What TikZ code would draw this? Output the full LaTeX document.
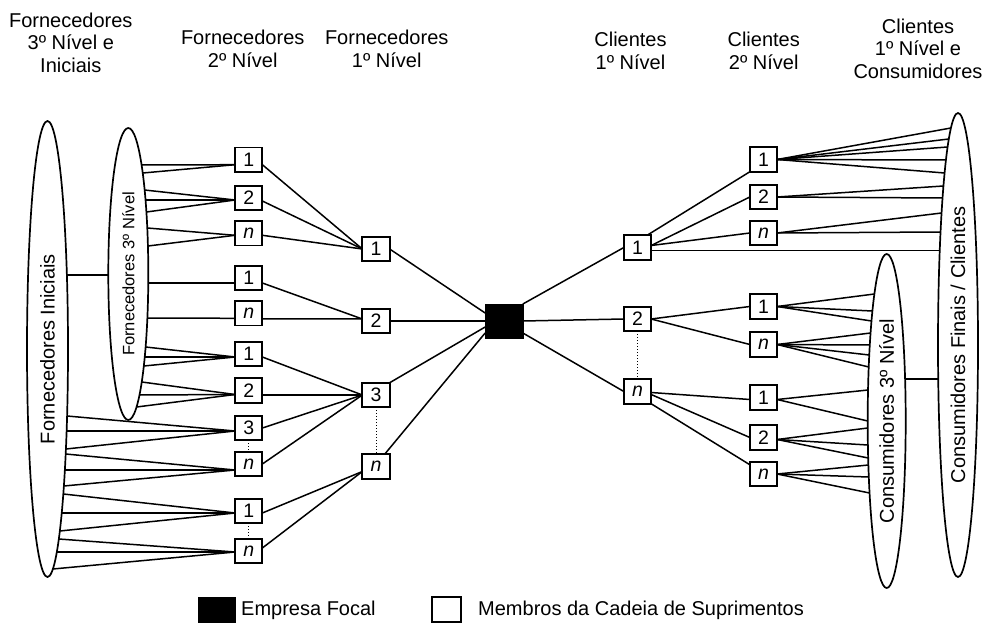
\documentclass[tikz,border=0pt]{standalone}
\usepackage{fontspec}
\setmainfont{Liberation Sans}
\usetikzlibrary{calc,shapes.geometric}
\tikzset{
  conn/.style={line width=1.5pt},
  member/.style={draw, line width=1.8pt, minimum width=27.3pt, minimum height=24.5pt,
    inner sep=0pt, outer sep=0pt, fill=white, font=\fontsize{19.5}{21}\selectfont},
  focal/.style={fill=black, draw=black, minimum width=37.7pt, minimum height=34pt, inner sep=0pt, outer sep=0pt},
  ell/.style={draw, ellipse, line width=1.7pt, inner sep=0pt, outer sep=0pt, rotate=90},
  dots/.style={dotted, line width=1pt},
  hdr/.style={anchor=base, inner sep=0pt, font=\fontsize{20}{22.7}\selectfont},
  legtxt/.style={anchor=base west, inner sep=0pt, font=\fontsize{20}{24}\selectfont},
}
\newcommand\ellpt[6]{\pgfmathsetmacro\ex{#2+#4*sqrt(1-((#6-#3)/#5)^2)}\coordinate (#1) at (\ex,#6);}
\newcommand\fan[6]{\foreach \yy in {#6}{\ellpt{ep}{#2}{#3}{#4}{#5}{\yy}\draw[conn] (ep) -- #1;}}
\begin{document}
\begin{tikzpicture}[x=1pt,y=-1pt]
\useasboundingbox (0,0) rectangle (985,623);

% headers
\node[hdr] (h1) at (70.8,27.3) {\begin{tabular}[t]{@{}c@{}}Fornecedores\\3º Nível e\\Iniciais\end{tabular}};
\node[hdr] (h2) at (242.7,45) {\begin{tabular}[t]{@{}c@{}}Fornecedores\\2º Nível\end{tabular}};
\node[hdr] (h3) at (386.7,45) {\begin{tabular}[t]{@{}c@{}}Fornecedores\\1º Nível\end{tabular}};
\node[hdr] (h4) at (630.5,46.7) {\begin{tabular}[t]{@{}c@{}}Clientes\\1º Nível\end{tabular}};
\node[hdr] (h5) at (763.7,46.7) {\begin{tabular}[t]{@{}c@{}}Clientes\\2º Nível\end{tabular}};
\node[hdr] (h6) at (918,33.3) {\begin{tabular}[t]{@{}c@{}}Clientes\\1º Nível e\\Consumidores\end{tabular}};

% ellipses
\node[ell, minimum width=456pt, minimum height=41pt] (E1) at (47.5,349) {\fontsize{20}{24}\selectfont Fornecedores Iniciais};
\node[ell, minimum width=292pt, minimum height=40pt] (E2) at (128.3,274) {\fontsize{16.5}{19}\selectfont Fornecedores 3º Nível};
\node[ell, minimum width=334pt, minimum height=38pt] (E3) at (886.7,421) {\fontsize{20}{24}\selectfont Consumidores 3º Nível};
\node[ell, minimum width=464pt, minimum height=40pt] (E4) at (958,345) {\fontsize{20}{24}\selectfont Consumidores Finais / Clientes};

% supplier tier 2
\node[member] (a1) at (248.7,159.7) {1};
\node[member] (a2) at (248.7,198) {2};
\node[member] (a3) at (248.7,233.3) {\textit{n}};
\node[member] (b1) at (248.7,278) {1};
\node[member] (b2) at (248.7,313.3) {\textit{n}};
\node[member] (c1) at (248.7,354) {1};
\node[member] (c2) at (248.7,390.5) {2};
\node[member] (c3) at (248.7,428) {3};
\node[member] (c4) at (248.7,464) {\textit{n}};
\node[member] (d1) at (248.7,511) {1};
\node[member] (d2) at (248.7,551) {\textit{n}};
% supplier tier 1
\node[member] (p1) at (376,249) {1};
\node[member] (p2) at (376,321) {2};
\node[member] (p3) at (376,395) {3};
\node[member] (p4) at (376,466.5) {\textit{n}};
% focal
\node[focal] (F) at (504,321) {};
% client tier 1
\node[member] (q1) at (637.5,247.5) {1};
\node[member] (q2) at (637.5,319) {2};
\node[member] (q3) at (637.5,391.5) {\textit{n}};
% client tier 2
\node[member] (r1) at (763.5,159.5) {1};
\node[member] (r2) at (763.5,197) {2};
\node[member] (r3) at (763.5,233) {\textit{n}};
\node[member] (s1) at (763.5,306.5) {1};
\node[member] (s2) at (763.5,344.5) {\textit{n}};
\node[member] (t1) at (763.5,397.5) {1};
\node[member] (t2) at (763.5,437.5) {2};
\node[member] (t3) at (763.5,474) {\textit{n}};

% ellipse-to-ellipse links
\ellpt{e1r}{47.5}{349}{20.5}{228}{275}
\ellpt{e2l}{128.3}{274}{-20}{146}{275}
\draw[conn] (e1r) -- (e2l);
\ellpt{e3r}{886.7}{421}{19}{167}{379}
\ellpt{e4l}{958}{345}{-20}{232}{379}
\draw[conn] (e3r) -- (e4l);

% fans from left ellipses
\fan{($(a1.west)+(0,5)$)}{128.3}{274}{20}{146}{165,173}
\fan{($(a2.west)+(0,2)$)}{128.3}{274}{20}{146}{190,200,212}
\fan{($(a3.west)+(0,2)$)}{128.3}{274}{20}{146}{228,246}
\fan{($(b1.west)+(0,5)$)}{128.3}{274}{20}{146}{283}
\fan{($(b2.west)+(0,5)$)}{128.3}{274}{20}{146}{318}
\fan{($(c1.west)+(0,3)$)}{128.3}{274}{20}{146}{347,357,366}
\fan{($(c2.west)+(0,4)$)}{128.3}{274}{20}{146}{382,395,407}
\fan{($(c3.west)+(0,3)$)}{47.5}{349}{20.5}{228}{416,431,449}
\fan{($(c4.west)+(0,6)$)}{47.5}{349}{20.5}{228}{454,470,486}
\fan{($(d1.west)+(0,2)$)}{47.5}{349}{20.5}{228}{494,513,531}
\fan{($(d2.west)+(0,1)$)}{47.5}{349}{20.5}{228}{539,552,569}

% tier 2 -> tier 1 suppliers
\draw[conn] ($(a1.east)+(0,5)$) -- (p1.west);
\draw[conn] ($(a2.east)+(0,3)$) -- (p1.west);
\draw[conn] ($(a3.east)+(0,2)$) -- (p1.west);
\draw[conn] ($(b1.east)+(0,5)$) -- ($(p2.west)+(0,-2)$);
\draw[conn] ($(b2.east)+(0,5.5)$) -- ($(p2.west)+(0,-2)$);
\draw[conn] ($(c1.east)+(0,3)$) -- (p3.west);
\draw[conn] ($(c2.east)+(0,4.5)$) -- (p3.west);
\draw[conn] (c3.east) -- (p3.west);
\draw[conn] (c4.east) -- (p3.west);
\draw[conn] ($(d1.east)+(0,2)$) -- ($(p4.west)+(0,5)$);
\draw[conn] ($(d2.east)+(0,-3)$) -- ($(p4.west)+(0,5)$);

% tier 1 suppliers -> focal
\draw[conn] (p1.east) -- ($(F.west)+(0,-8)$);
\draw[conn] (p2.east) -- (F.west);
\draw[conn] (p3.north east) -- ($(F.west)+(0,6)$);
\draw[conn] ($(p4.north east)+(-5,0)$) -- ($(F.west)+(0,12)$);

% focal -> tier 1 clients
\draw[conn] (F.north east) -- (q1.west);
\draw[conn] (F.east) -- (q2.west);
\draw[conn] ($(F.east)+(0,12)$) -- (q3.west);

% tier 1 -> tier 2 clients
\draw[conn] ($(q1.north east)+(-4,0)$) -- (r1.south west);
\draw[conn] ($(q1.east)+(0,-2)$) -- (r2.west);
\draw[conn] ($(q1.east)+(0,-2)$) -- (r3.west);
\ellpt{e4q}{958}{345}{-20}{232}{250.5}
\draw[conn] ($(q1.east)+(0,3)$) -- (e4q);
\draw[conn] (q2.east) -- (s1.west);
\draw[conn] (q2.east) -- (s2.west);
\draw[conn] ($(q3.east)+(0,1)$) -- ($(t1.west)+(0,2)$);
\draw[conn] ($(q3.east)+(0,3)$) -- (t2.west);
\draw[conn] (q3.south east) -- ($(t3.north west)+(0,3)$);

% fans to right ellipses
\fan{(r1.east)}{958}{345}{-20}{232}{128,139,147,160,173}
\fan{(r2.east)}{958}{345}{-20}{232}{186,198}
\fan{(r3.east)}{958}{345}{-20}{232}{213,232}
\fan{(s1.east)}{886.7}{421}{-19}{167}{294,311,321}
\fan{(s2.east)}{886.7}{421}{-19}{167}{333,345,355,367}
\fan{($(t1.east)+(0,2)$)}{886.7}{421}{-19}{167}{390,421}
\fan{($(t2.east)+(0,2)$)}{886.7}{421}{-19}{167}{428,445,458}
\fan{(t3.east)}{886.7}{421}{-19}{167}{465,477,493}

% dotted continuations
\draw[dots] (c3.south) -- (c4.north);
\draw[dots] (d1.south) -- (d2.north);
\draw[dots] (p3.south) -- (p4.north);
\draw[dots] (q2.south) -- (q3.north);

% legend
\node[focal, minimum width=37pt, minimum height=25pt] (lf) at (216.5,609.5) {};
\node[legtxt] (lft) at (241,615.5) {Empresa Focal};
\node[member, minimum width=29pt, minimum height=25pt] (lm) at (446.5,609.5) {};
\node[legtxt] (lmt) at (478,615.5) {Membros da Cadeia de Suprimentos};
\end{tikzpicture}
\end{document}
